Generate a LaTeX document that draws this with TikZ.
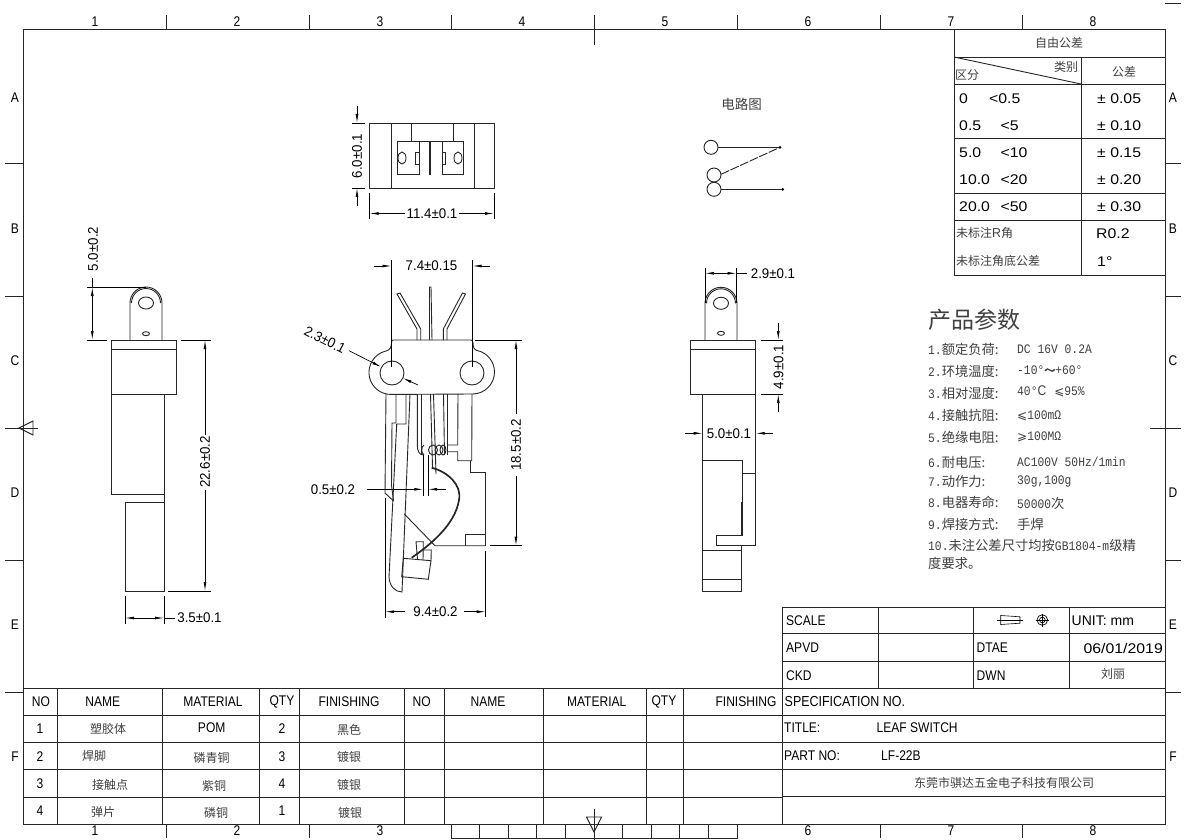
\documentclass[tikz,border=0pt]{standalone}
\usepackage{fontspec}
\setmainfont[FakeStretch=0.86]{Liberation Sans}
\newfontfamily\widr{Liberation Sans}
\newfontfamily\dimf[FakeStretch=0.95]{Liberation Sans}
\newfontfamily\widest[FakeStretch=1.13]{Liberation Sans}
\newfontfamily\cjk{Noto Sans CJK SC}
\newfontfamily\cjkb[FakeBold=3]{Noto Sans CJK SC}
\newfontfamily\mon[FakeStretch=0.87]{Liberation Mono}
\newfontfamily\djv{DejaVu Sans}
\newcommand\fsz[1]{\fontsize{#1}{#1}\selectfont}
\usetikzlibrary{arrows.meta}
\definecolor{cjkgray}{gray}{0.25}
\tikzset{
  ln/.style={line width=0.9pt,black!85},
  thick line/.style={line width=1.7pt,black!85},
  dimen/.style={line width=0.7pt,black},
  tip/.style={-{Latex[length=9pt,width=2.8pt]}},
  tips/.style={{Latex[length=9pt,width=2.8pt]}-{Latex[length=9pt,width=2.8pt]}},
  dimtext/.style={inner sep=0pt,font=\dimf\fsz{14}},
  tx/.style={inner sep=0pt,font=\fsz{14}},
  txl/.style={inner sep=0pt,anchor=west,font=\fsz{14}},
  txw/.style={inner sep=0pt,anchor=west,font=\widest\fsz{14}},
  zh/.style={inner sep=0pt,text=cjkgray,font=\cjk\fsz{12}},
  zhl/.style={inner sep=0pt,anchor=west,text=cjkgray,font=\cjk\fsz{12}},
  param/.style={inner sep=0pt,anchor=west,text=cjkgray,font=\cjk\fsz{13.3}},
  val/.style={inner sep=0pt,anchor=west,text=cjkgray,font=\mon\fsz{13}},
  marg/.style={inner sep=0pt,font=\fsz{14}},
}
\begin{document}
\begin{tikzpicture}[x=1pt,y=-1pt]
\useasboundingbox (0,0) rectangle (1184,840);
\fill[white] (0,0) rectangle (1184,840);
% ---------- frame
\draw[ln] (23,29) rectangle (1165,824.5);
\foreach \x in {166,309,451,737,880,1022} \draw[ln] (\x,15) -- (\x,29);
\draw[ln] (594,15) -- (594,45);
\foreach \y in {163,296,560,692} {\draw[ln] (5,\y) -- (23,\y); \draw[ln] (1165,\y) -- (1181,\y);}
\draw[ln] (1165,3) -- (1181,3);
\draw[ln] (5,428) -- (38,428);
\draw[ln] (33,421) -- (19,428) -- (33,435) -- cycle;
\draw[ln] (1150,428) -- (1181,428);
\foreach \x in {166,309,880,1022} \draw[ln] (\x,824.5) -- (\x,838);
\draw[ln] (451,824.5) -- (451,838) -- (737,838) -- (737,824.5);
\foreach \x in {479.6,508.2,536.8,565.4,594,622.6,651.2,679.8,708.4} \draw[ln] (\x,824.5) -- (\x,838);
\draw[ln] (594,809) -- (594,840);
\draw[ln] (586.5,817) -- (601.5,817) -- (594,832) -- cycle;
\foreach \x/\n in {95/1,237/2,380/3,522/4,665/5,808/6,951/7,1093/8} \node[marg] at (\x,22) {\n};
\foreach \x/\n in {95/1,237/2,380/3,808/6,951/7,1093/8} \node[marg] at (\x,831) {\n};
\foreach \y/\n in {98/A,229/B,361/C,493/D,625/E,757/F} {\node[marg] at (15,\y) {\n}; \node[marg] at (1173,\y) {\n};}
% ---------- tolerance table
\draw[ln] (954,29) rectangle (1165,275);
\foreach \y in {57,84,138,193,220} \draw[ln] (954,\y) -- (1165,\y);
\draw[ln] (1081,57) -- (1081,275);
\draw[ln] (954,57) -- (1081,84);
\node[zh] at (1059,43) {自由公差};
\node[zh] at (1066,67) {类别};
\node[zh] at (967,75) {区分};
\node[zh] at (1124,72) {公差};
\foreach \y/\a/\ax/\b/\c in {99/0/989/{<0.5}/{± 0.05},126/0.5/1000.5/{<5}/{± 0.10},153/5.0/1000.5/{<10}/{± 0.15},180/10.0/1000.5/{<20}/{± 0.20},207/20.0/1000.5/{<50}/{± 0.30}} {
  \node[txw] at (959,\y) {\a};
  \node[txw] at (\ax,\y) {\b};
  \node[txw] at (1097,\y) {\c};
}
\node[zhl] at (956,233) {未标注{\dimf\fsz{13}R}角};
\node[zhl] at (956,261) {未标注角底公差};
\node[txw] at (1096,234) {R0.2};
\node[txw] at (1097,262) {1°};
% ---------- parameters
\node[inner sep=0pt,anchor=west,text=cjkgray,font=\cjk\fsz{23}] at (928,320) {产品参数};
\node[param] at (928,349) {{\mon\fsz{13}1.}额定负荷:};
\node[val] at (1017,349) {DC 16V 0.2A};
\node[param] at (928,371) {{\mon\fsz{13}2.}环境温度:};
\node[val] at (1017,370) {-10°{\cjkb\fsz{11}～}+60°};
\node[param] at (928,393) {{\mon\fsz{13}3.}相对湿度:};
\node[val] at (1017,391) {40°{\rmfamily\fsz{14}C}\hspace{8pt}{\djv\fsz{12}⩽}95\%};
\node[param] at (928,415) {{\mon\fsz{13}4.}接触抗阻:};
\node[val] at (1017,416) {{\djv\fsz{12}⩽}100mΩ};
\node[param] at (928,437) {{\mon\fsz{13}5.}绝缘电阻:};
\node[val] at (1017,437) {{\djv\fsz{12}⩾}100MΩ};
\node[param] at (928,462) {{\mon\fsz{13}6.}耐电压:};
\node[val] at (1017,462) {AC100V 50Hz/1min};
\node[param] at (928,481) {{\mon\fsz{13}7.}动作力:};
\node[val] at (1017,481) {30g,100g};
\node[param] at (928,502) {{\mon\fsz{13}8.}电器寿命:};
\node[val] at (1017,503) {50000{\cjk\fsz{13.3}次}};
\node[param] at (928,524) {{\mon\fsz{13}9.}焊接方式:};
\node[param] at (1017,524) {手焊};
\node[param] at (928,545) {{\mon\fsz{13}10.}未注公差尺寸均按{\mon\fsz{13}GB1804-m}级精};
\node[param] at (928,563) {度要求。};
% ---------- title block
\draw[ln] (782,607) -- (1165,607);
\draw[ln] (782,607) -- (782,824.5);
\foreach \y in {633.5,661,688,715,742,769,796.5} \draw[ln] (782,\y) -- (1165,\y);
\foreach \x in {878,973,1069} \draw[ln] (\x,607) -- (\x,688);
\node[txl] at (786,620.5) {SCALE};
\node[txl] at (786,648) {APVD};
\node[txl] at (786,676) {CKD};
\node[txl] at (976.5,648) {DTAE};
\node[txl] at (976.5,676) {DWN};
\node[inner sep=0pt,anchor=west,font=\widr\fsz{14}] at (1071.5,620.5) {UNIT: mm};
\node[inner sep=0pt,anchor=east,font=\widest\fsz{14}] at (1163,648) {06/01/2019};
\node[zh] at (1113,674) {刘丽};
\node[inner sep=0pt,anchor=west,font=\fsz{14.5}] at (784.5,702) {SPECIFICATION NO.};
\node[txl] at (784,728) {TITLE:};
\node[txl] at (876.5,728) {LEAF SWITCH};
\node[txl] at (784,756) {PART NO:};
\node[txl] at (881,756) {LF-22B};
\node[zh] at (1004,782.5) {东莞市骐达五金电子科技有限公司};
\draw[line width=0.6pt] (1000.7,615.5) -- (1020,616.8) -- (1020,623.2) -- (1000.7,624.5) -- cycle;
\draw[line width=0.5pt] (996.7,620) -- (1023.3,620);
\draw[line width=0.7pt] (1042.3,620) circle[radius=5.3] circle[radius=2.8];
\draw[line width=0.5pt] (1035.5,620) -- (1049,620) (1042.3,613.5) -- (1042.3,626.5);
% ---------- parts table
\draw[ln] (23,688) -- (782,688);
\foreach \y in {715,742,769,797} \draw[ln] (23,\y) -- (782,\y);
\foreach \x in {57.5,162,259,299,404,444,543,646,683} \draw[ln] (\x,688) -- (\x,824.5);
\foreach \x/\s in {41/NO,102.7/NAME,213/MATERIAL,282/QTY,349/FINISHING,421.7/NO,488/NAME,596.7/MATERIAL,664/QTY,746/FINISHING} \node[tx] at (\x,701.5) {\s};
\foreach \y/\n in {729/1,757/2,784/3,811/4} \node[tx] at (40,\y) {\n};
\foreach \y/\n in {729/2,757/3,784/4,811/1} \node[tx] at (282,\y) {\n};
\node[zh] at (108,729) {塑胶体};
\node[zh] at (94,756) {焊脚};
\node[zh] at (110,785) {接触点};
\node[zh] at (103,812) {弹片};
\node[tx] at (211.7,728) {POM};
\node[zh] at (211.7,758) {磷青铜};
\node[zh] at (214,786) {紫铜};
\node[zh] at (216,813) {磷铜};
\node[zh] at (349,730) {黑色};
\node[zh] at (349,757) {镀银};
\node[zh] at (349,785) {镀银};
\node[zh] at (350,813) {镀银};
% ---------- circuit
\node[zh,font=\cjk\fsz{13.5}] at (741.5,104) {电路图};
\draw[ln] (711,147.3) circle[radius=7] (714,175) circle[radius=7] (714,189.3) circle[radius=7];
\draw[ln] (718,147.3) -- (780,147.3);
\draw[ln,dash pattern=on 9pt off 1.5pt] (721,174.3) -- (780,147.3);
\draw[ln] (721,189.3) -- (782.7,189.3);
\fill (780,147.3) circle[radius=1.5] (782.7,189.3) circle[radius=1.5];
% ---------- top view
\draw[ln] (369.5,123) rectangle (494,188);
\draw[ln] (391,123) -- (391,188) (474,123) -- (474,188);
\draw[ln] (411,123) -- (411,141) -- (453,141) -- (453,123);
\draw[ln] (419,141) -- (397,141) -- (397,174) -- (419,174) -- cycle;
\draw[ln] (442,141) -- (463,141) -- (463,174) -- (442,174) -- cycle;
\draw[thick line] (430,141) -- (430,175);
\draw[ln] (402,158) ellipse[x radius=4,y radius=6] (458,158) ellipse[x radius=4,y radius=6];
\draw[ln] (415,152) rectangle (419,164) (442,152) rectangle (445,164);
\draw[dimen] (352,123) -- (365,123) (352,188) -- (365,188);
\draw[dimen,tip] (357,106) -- (357,123);
\draw[dimen,tip] (357,206) -- (357,188);
\node[dimtext,rotate=90] at (357,156) {6.0±0.1};
\draw[dimen] (369.5,193) -- (369.5,219) (494,193) -- (494,219);
\draw[dimen,tip] (405,213.5) -- (369.5,213.5);
\draw[dimen,tip] (459,213.5) -- (494,213.5);
\node[dimtext] at (432,213.5) {11.4±0.1};
% ---------- main view: flange and leads
\draw[ln] (386,351) arc[start angle=257,end angle=90,radius=22] -- (472.5,394) arc[start angle=90,end angle=-77,radius=22]
  .. controls (474,350) and (473,347) .. (473,343) .. controls (473,341) and (472,340) .. (471,340) -- (393,340)
  .. controls (392,340) and (391.5,341) .. (391.5,343) .. controls (391.5,347) and (390,350) .. (386,351);
\draw[ln] (392,373) circle[radius=12] (472,373) circle[radius=12];
\draw[ln] (429.5,340) -- (429.5,287) -- (431,287) -- (432,340);
\draw[ln] (417,340) -- (417,329) -- (397,294) -- (400,293) -- (420.7,329) -- (420.7,340);
\draw[ln] (447,340) -- (447,329) -- (465.5,294) -- (462.5,293) -- (443.3,329) -- (443.3,340);
% lower outline
\draw[ln] (386,394) -- (385,493) -- (393.5,501);
\draw[ln] (396,394) -- (396,423) -- (392,423) -- (391.5,485) -- (393.5,501);
\draw[ln] (406,394) -- (406,424) -- (396.7,424) -- (389,577) .. controls (389.5,586) and (395,592) .. (402,592) -- (410,394);
\draw[ln] (417.3,394) -- (417.3,446) .. controls (417.3,450) and (419,455) .. (423.3,455);
\draw[ln] (421,394) -- (421,455);
\draw[ln] (424,445) .. controls (421,447) and (421,453) .. (424,455);
\draw[ln] (433,450) ellipse[x radius=4.5,y radius=5] (439,450) ellipse[x radius=4,y radius=5] (443,450) ellipse[x radius=3,y radius=5];
\draw[ln] (430.5,394) -- (432.5,467);
\draw[ln] (433.5,394) -- (436,474);
\draw[ln] (443.5,394) -- (444.5,455);
\draw[ln] (447.5,394) -- (447.5,455);
\draw[ln] (458,394) -- (457.7,445) -- (447.7,445);
\draw[ln] (472,394) -- (471.7,460.7) -- (457.7,460.7) -- (457.7,451.7) -- (447.7,451.7);
\draw[ln] (470.7,460.7) -- (470.7,472.7) -- (485.7,472.7) -- (485.7,545.7);
\draw[ln] (404.3,514) -- (435,545.7) -- (485.7,545.7);
\draw[ln] (465.3,545.7) -- (465.3,534.7) -- (485.7,534.7);
\draw[thick line] (431.7,467.7) .. controls (448,472) and (462,485) .. (459,500) .. controls (455,525) and (430,545) .. (411.7,557.7);
\draw[ln] (403.3,558.3) -- (431,560.7) -- (428.3,579.3) -- (401.7,576.7) -- cycle;
\draw[ln] (417.5,559) -- (416,541.7) -- (423.3,541.7) -- (423,560);
\draw[ln] (423.3,550) -- (431.3,550) -- (431,560.7);
% main view dimensions
\draw[dimen] (391.5,260) -- (391.5,367) (472.5,260) -- (472.5,367);
\draw[dimen,tip] (374,266) -- (391.5,266);
\draw[dimen,tip] (490,266) -- (472.5,266);
\node[dimtext] at (431.5,266) {7.4±0.15};
\draw[dimen] (475,340) -- (522,340) (490,545.7) -- (522,545.7);
\draw[dimen,tip] (516,414) -- (516,340);
\draw[dimen,tip] (516,476) -- (516,545.7);
\node[dimtext,rotate=90] at (516,445) {18.5±0.2};
\node[dimtext,rotate=-27] at (325,340) {2.3±0.1};
\draw[dimen,tip] (349,350.7) -- (381.3,367);
\draw[dimen,tip] (418,385) -- (402.7,378);
\draw[dimen] (385,498) -- (385,618) (485.7,550.7) -- (485.7,617);
\draw[dimen,tip] (405,611.7) -- (385,611.7);
\draw[dimen,tip] (464,611.7) -- (485.7,611.7);
\node[dimtext] at (435.5,611.7) {9.4±0.2};
\draw[dimen] (423.3,455) -- (423.3,496) (428,455) -- (428,496);
\draw[dimen,tip] (366.7,489.3) -- (423.3,489.3);
\draw[dimen,tip] (446,489.3) -- (428,489.3);
\node[dimtext] at (333,490) {0.5±0.2};
% ---------- left view
\draw[ln] (130,340) -- (130,303) arc[start angle=180,end angle=360,radius=16] -- (162,340);
\draw[ln] (131.5,303) arc[start angle=180,end angle=360,radius=14.5];
\draw[ln] (146,303) ellipse[x radius=7.5,y radius=6] (146,333.7) ellipse[x radius=3.5,y radius=2];
\draw[ln] (111.7,340) rectangle (176.3,394);
\draw[ln] (111.7,349.3) -- (176.3,349.3);
\draw[ln] (111.7,394) -- (111.7,494) -- (164,494);
\draw[ln] (164,394) -- (164,591) -- (125,591) -- (125,502) -- (164,502);
\draw[dimen] (86.7,287) -- (146,287) (86.7,340) -- (106.7,340);
\draw[dimen,tips] (92.3,287) -- (92.3,340);
\draw[dimen] (92.3,278) -- (92.3,287);
\node[dimtext,rotate=90] at (93,249) {5.0±0.2};
\draw[dimen] (181,340) -- (210.7,340) (168,591) -- (211,591);
\draw[dimen,tip] (205,435) -- (205,340);
\draw[dimen,tip] (205,490) -- (205,591);
\node[dimtext,rotate=90] at (205,462) {22.6±0.2};
\draw[dimen] (125,596) -- (125,624) (164,596) -- (164,624);
\draw[dimen,tips] (125,618) -- (164,618);
\draw[dimen] (164,618) -- (175,618);
\node[dimtext] at (199.5,618) {3.5±0.1};
% ---------- right view
\draw[ln] (705,340) -- (705,303.3) arc[start angle=180,end angle=360,radius=16] -- (737,340);
\draw[ln] (706.5,303.3) arc[start angle=180,end angle=360,radius=14.5];
\draw[ln] (721,303.3) ellipse[x radius=7.5,y radius=6] (721,333.3) ellipse[x radius=3.5,y radius=2];
\draw[ln] (690.7,340) rectangle (755.3,394);
\draw[ln] (690.7,349.3) -- (755.3,349.3);
\draw[ln] (702.7,394) -- (702.7,591.7) -- (741.3,591.7) -- (741.3,545.7);
\draw[ln] (755.7,394) -- (755.7,545.7) -- (716,545.7) -- (716,535) -- (742.3,535) -- (742.3,460.7) -- (702.7,460.7);
\draw[thick line] (742.3,501.7) -- (742.3,535);
\draw[ln] (742.3,473) -- (755.7,473);
\draw[ln] (702.7,550) -- (741.3,550) (702.7,579.3) -- (741.3,579.3);
\draw[dimen] (705,267.7) -- (705,303) (736.5,267.7) -- (736.5,303);
\draw[dimen,tips] (705,273.3) -- (736.5,273.3);
\draw[dimen] (736.5,273.3) -- (747,273.3);
\node[dimtext] at (773,273.3) {2.9±0.1};
\draw[dimen] (760.7,340) -- (783,340) (760.7,394) -- (783,394);
\draw[dimen,tip] (778.3,322.7) -- (778.3,340);
\draw[dimen,tip] (778.3,411.7) -- (778.3,394);
\node[dimtext,rotate=90] at (778.5,367) {4.9±0.1};
\draw[dimen,tip] (685,433.3) -- (702.7,433.3);
\draw[dimen,tip] (773,433.3) -- (755.7,433.3);
\node[dimtext] at (729,433.3) {5.0±0.1};
\end{tikzpicture}
\end{document}
